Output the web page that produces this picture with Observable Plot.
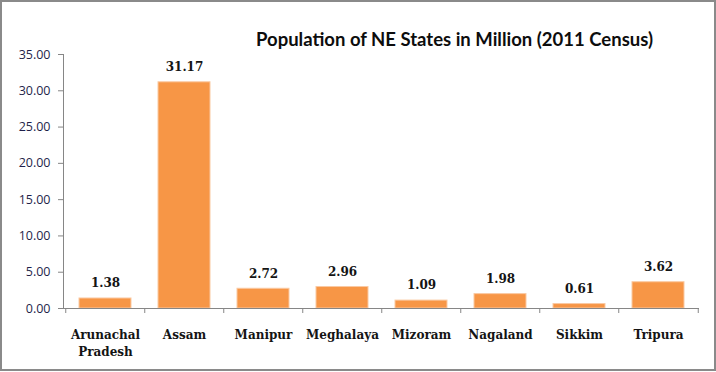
<!DOCTYPE html>
<html>
<head>
<meta charset="utf-8">
<script src="https://cdn.jsdelivr.net/npm/d3@7"></script>
<script src="https://cdn.jsdelivr.net/npm/@observablehq/plot@0.6"></script>
<style>
  html, body { margin: 0; padding: 0; background: #fff; }
  #wrap { position: relative; width: 716px; height: 372px; overflow: hidden; }
  #frame { position: absolute; left: 0; top: 0; width: 716px; height: 371px; box-sizing: border-box; border: 2px solid #8a8a8a; pointer-events: none; }
  #title { position: absolute; left: 256px; top: 28px; font-family: Lato, "Open Sans", sans-serif; font-weight: bold; font-size: 18.5px; line-height: 22px; color: #0d0d0d; white-space: nowrap; }
  #chart { position: absolute; left: 0; top: 0; }
</style>
</head>
<body>
<div id="wrap">
  <div id="chart"></div>
  <div id="title"></div>
  <div id="frame"></div>
</div>
<script>
const titleText = "Population of NE States in Million (2011 Census)";
const categories = ["Arunachal\nPradesh", "Assam", "Manipur", "Meghalaya", "Mizoram", "Nagaland", "Sikkim", "Tripura"];
const populations = [1.38, 31.17, 2.72, 2.96, 1.09, 1.98, 0.61, 3.62];
const yTicks = [0, 5, 10, 15, 20, 25, 30, 35];

const data = categories.map((state, i) => ({state, pop: populations[i]}));

const W = 716, H = 372, mL = 63, mR = 17, mT = 54, mB = 64;
const step = (W - mL - mR) / categories.length;
const pad = 0.346;
const fmt = d3.format(".2f");
const serif = "'DejaVu Serif', serif";

document.getElementById("title").textContent = titleText;

const chart = Plot.plot({
  width: W,
  height: H,
  marginLeft: mL,
  marginRight: mR,
  marginTop: mT,
  marginBottom: mB,
  style: {background: "transparent", overflow: "visible"},
  x: {domain: categories, paddingInner: pad, paddingOuter: pad / 2, axis: null},
  y: {domain: [0, 35], axis: null},
  marks: [
    Plot.barY(data, {x: "state", y: "pop", fill: "#F79646", stroke: "#FAC9A2", strokeWidth: 1}),
    Plot.axisY({ticks: yTicks, tickFormat: fmt, tickSize: 5, tickPadding: 8, stroke: "#868686", color: "#1f1f4a", fontSize: 12.5, fontFamily: "'Open Sans', sans-serif", label: null}),
    Plot.ruleX(categories, {x: d => d, y1: 0, y2: 0, insetBottom: -5, dx: -step / 2, stroke: "#868686"}),
    Plot.ruleX(categories.slice(-1), {x: d => d, y1: 0, y2: 0, insetBottom: -5, dx: step / 2, stroke: "#868686"}),
    Plot.frame({anchor: "left", stroke: "#868686"}),
    Plot.ruleY([0], {stroke: "#868686"}),
    Plot.text(data, {x: "state", y: "pop", text: d => fmt(d.pop), dy: -15, fontFamily: serif, fontWeight: "bold", fontSize: 12, fill: "#141414"}),
    Plot.text(categories, {x: d => d, frameAnchor: "bottom", lineAnchor: "top", dy: 19, lineHeight: 1.38, fontFamily: serif, fontWeight: "bold", fontSize: 12, fill: "#141414"})
  ]
});
document.getElementById("chart").appendChild(chart);
</script>
</body>
</html>
